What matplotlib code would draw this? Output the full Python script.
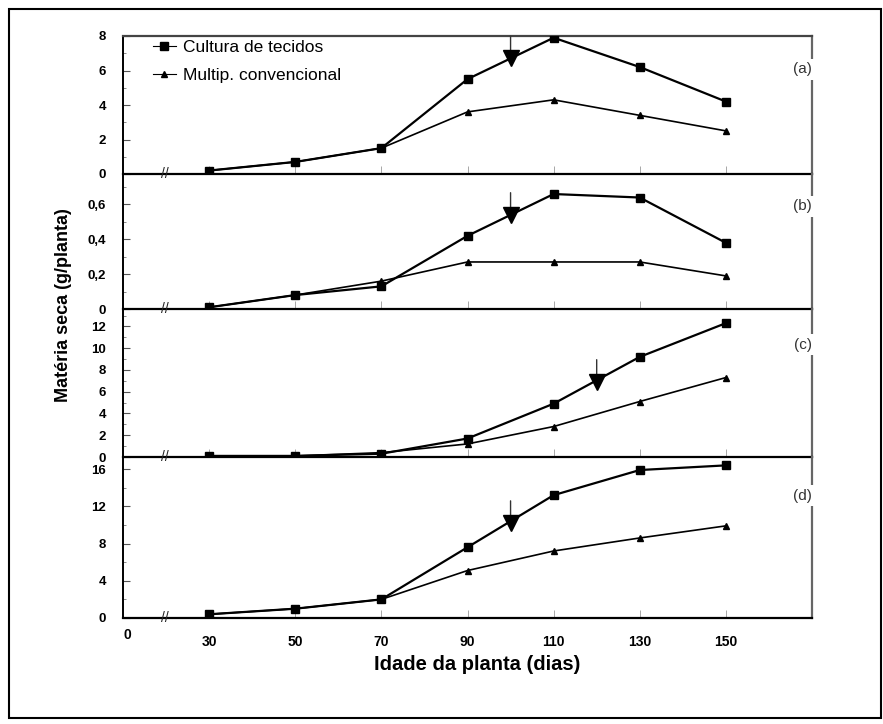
import matplotlib
matplotlib.use('Agg')
import matplotlib.pyplot as plt
from matplotlib.ticker import MultipleLocator, FuncFormatter
from matplotlib.patches import Rectangle

plt.rcParams['font.family'] = ['Liberation Sans', 'DejaVu Sans']

days = [30, 50, 70, 90, 110, 130, 150]
cult_a = [0.2, 0.7, 1.5, 5.5, 7.9, 6.2, 4.2]
mult_a = [0.2, 0.7, 1.5, 3.6, 4.3, 3.4, 2.5]
cult_b = [0.01, 0.08, 0.13, 0.42, 0.66, 0.64, 0.38]
mult_b = [0.01, 0.08, 0.16, 0.27, 0.27, 0.27, 0.19]
cult_c = [0.1, 0.1, 0.3, 1.7, 4.9, 9.2, 12.3]
mult_c = [0.1, 0.1, 0.4, 1.2, 2.8, 5.1, 7.3]
cult_d = [0.4, 1.0, 2.0, 7.6, 13.2, 15.9, 16.4]
mult_d = [0.4, 1.0, 2.0, 5.1, 7.2, 8.6, 9.9]
arrow_x = [100, 100, 120, 100]
arrow_y = [6.7, 0.54, 6.9, 10.2]
panel_labels = ['(a)', '(b)', '(c)', '(d)']
ytop = [8, 0.775, 13.6, 17.3]
yticks = [[0, 2, 4, 6, 8], [0, 0.2, 0.4, 0.6], [0, 2, 4, 6, 8, 10, 12], [0, 4, 8, 12, 16]]
yminor = [1, 0.1, 1, 2]
xticks = [30, 50, 70, 90, 110, 130, 150]
legend_labels = ['Cultura de tecidos', 'Multip. convencional']

cult = [cult_a, cult_b, cult_c, cult_d]
mult = [mult_a, mult_b, mult_c, mult_d]

W, H = 883, 724
fig = plt.figure(figsize=(W / 100, H / 100), dpi=100)
fig.patches.append(Rectangle((9 / W, 1 - 718 / H), (881 - 9) / W, (718 - 9) / H,
                             transform=fig.transFigure, fill=False, edgecolor='black', lw=1.5))

bounds = [(36, 174), (174, 309), (309, 457), (457, 618)]
left, right = 123, 812

def fmt(v, pos):
    if abs(v) < 1e-9:
        return '0'
    s = ('%g' % v)
    return s.replace('.', ',')

axes = []
for i, (t, b) in enumerate(bounds):
    ax = fig.add_axes([left / W, 1 - b / H, (right - left) / W, (b - t) / H])
    axes.append(ax)
    ax.plot(days, cult[i], color='black', lw=1.6, marker='s', ms=6, zorder=3,
            label=legend_labels[0])
    ax.plot(days, mult[i], color='black', lw=1.2, marker='^', ms=5, zorder=3,
            label=legend_labels[1])
    ax.plot([arrow_x[i]], [arrow_y[i]], marker='v', ms=11, color='black', zorder=4)
    ax.annotate('', xy=(arrow_x[i], arrow_y[i]), xytext=(0, 16), textcoords='offset points',
                arrowprops=dict(arrowstyle='-', lw=1.0, color='#333333', shrinkA=0, shrinkB=0))
    ax.set_xlim(10, 170)
    ax.set_ylim(0, ytop[i])
    ax.set_yticks(yticks[i])
    ax.yaxis.set_minor_locator(MultipleLocator(yminor[i]))
    ax.yaxis.set_major_formatter(FuncFormatter(fmt))
    ax.set_xticks(xticks)
    ax.tick_params(axis='y', which='major', direction='in', length=5, width=0.8,
                   color='#555555', labelsize=9.5, pad=12)
    ax.tick_params(axis='y', which='minor', direction='in', length=2.5, width=0.6,
                   color='#777777')
    ax.tick_params(axis='x', direction='in', length=6, width=0.6, color='#999999')
    for lab in ax.get_yticklabels():
        lab.set_fontweight('bold')
    if i < 3:
        ax.tick_params(axis='x', labelbottom=False)
    else:
        ax.tick_params(axis='x', labelsize=10, pad=12)
        for lab in ax.get_xticklabels():
            lab.set_fontweight('bold')
        ax.text(11, -0.06, '0', transform=ax.get_xaxis_transform(), ha='center', va='top',
                fontsize=10, fontweight='bold')
    ax.spines['top'].set_visible(i == 0)
    ax.spines['top'].set_color('#444444')
    ax.spines['top'].set_linewidth(1.6)
    ax.spines['right'].set_color('#666666')
    ax.spines['right'].set_linewidth(1.6)
    ax.spines['bottom'].set_linewidth(1.6)
    ax.spines['left'].set_linewidth(1.4)
    ax.patch.set_alpha(0)
    ax.text(19.8, 0, '//', ha='center', va='center', fontsize=10, color='#222222', zorder=5)
    ax.text(1.0, 0.76, panel_labels[i], transform=ax.transAxes, ha='right', va='center',
            fontsize=11, color='#333333', zorder=6,
            bbox=dict(facecolor='white', edgecolor='none', pad=2.5))
    for s in ax.spines.values():
        s.set_zorder(2)

leg = axes[0].legend(loc='upper left', bbox_to_anchor=(0.043, 0.975), frameon=False,
                     fontsize=12.5, handlelength=1.35, handletextpad=0.4, labelspacing=0.78,
                     borderaxespad=0, borderpad=0)
for h in leg.legend_handles:
    h.set_linewidth(0.8)

fig.text(63 / W, 1 - 305 / H, 'Matéria seca (g/planta)', rotation=90, ha='center', va='center',
         fontsize=13, fontweight='bold')
fig.text(477 / W, 1 - 665 / H, 'Idade da planta (dias)', ha='center', va='center',
         fontsize=14.5, fontweight='bold')

fig.savefig('out.png', dpi=100)
